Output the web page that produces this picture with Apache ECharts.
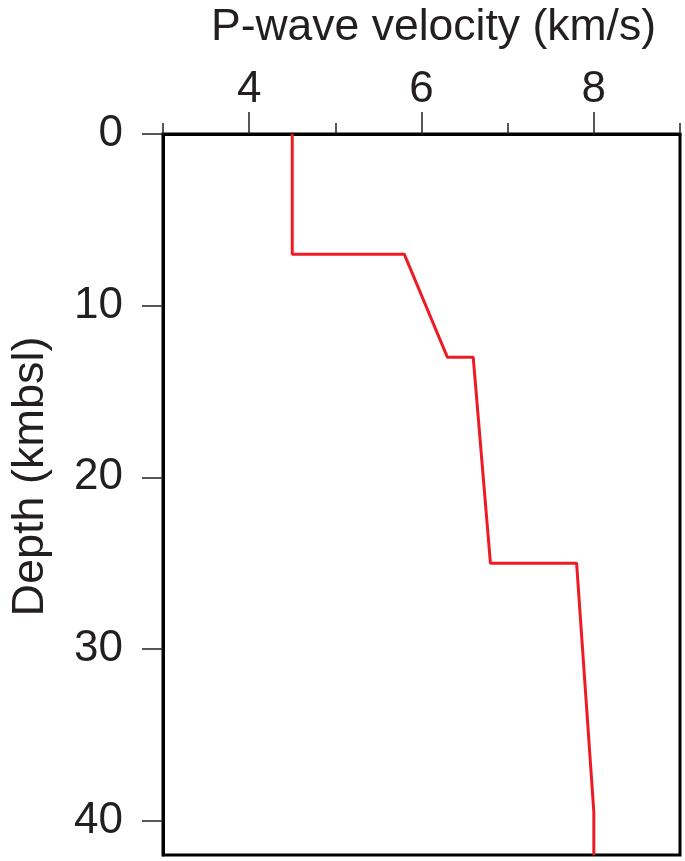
<!DOCTYPE html>
<html>
<head>
<meta charset="utf-8">
<script src="https://cdn.jsdelivr.net/npm/echarts@6/dist/echarts.min.js"></script>
<style>
html,body{margin:0;padding:0;background:#fff;}
#chart{width:685px;height:861px;}
</style>
</head>
<body>
<div id="chart"></div>
<script>
// Velocity model: P-wave velocity (km/s) vs depth (km below sea level)
const velocity = [4.5, 4.5, 5.8, 6.3, 6.6, 6.8, 7.8, 8.0, 8.0];
const depth    = [0,   7,   7,   13,  13,  25,  25,  39.5, 42];
const xMajorTicks = [4, 6, 8];
const xMinorTicks = [3, 5, 7, 9];
const yTicks = [0, 10, 20, 30, 40];
const xTitle = 'P-wave velocity (km/s)';
const yTitle = 'Depth (kmbsl)';

const txt = '#231f20';
const font = 'Liberation Sans, Arial, Helvetica, sans-serif';

const chart = echarts.init(document.getElementById('chart'), null, {renderer: 'canvas'});
chart.setOption({
  backgroundColor: '#fff',
  animation: false,
  grid: {left: 163, right: 5, top: 130, bottom: 6, show: true, borderColor: '#000', borderWidth: 3, containLabel: false},
  xAxis: [
    {
      type: 'value', position: 'top', min: 3, max: 9,
      name: xTitle, nameLocation: 'middle', nameGap: 84,
      nameTextStyle: {fontSize: 44.5, color: txt, fontFamily: font, padding: [0, 0, 0, 24]},
      axisLine: {show: true, lineStyle: {color: '#000', width: 3}},
      axisTick: {show: true, customValues: xMajorTicks, length: 22, inside: false, lineStyle: {color: '#231f20', width: 1.5}},
      axisLabel: {show: true, customValues: xMajorTicks, fontSize: 44, color: txt, fontFamily: font, margin: 22},
      splitLine: {show: false}
    },
    {
      type: 'value', position: 'top', min: 3, max: 9,
      axisLine: {show: false},
      axisTick: {show: true, customValues: xMinorTicks, length: 11, inside: false, lineStyle: {color: '#231f20', width: 1.5}},
      axisLabel: {show: false},
      splitLine: {show: false}
    }
  ],
  yAxis: {
    type: 'value', inverse: true, min: 0, max: 42,
    name: yTitle, nameLocation: 'middle', nameGap: 110,
    nameTextStyle: {fontSize: 45, color: txt, fontFamily: font, padding: [0, 0, 0, 36]},
    axisLine: {show: true, lineStyle: {color: '#000', width: 3}},
    axisTick: {show: true, customValues: yTicks, length: 21, lineStyle: {color: '#231f20', width: 1.5}},
    axisLabel: {show: true, customValues: yTicks, fontSize: 44, color: txt, fontFamily: font, margin: 40},
    splitLine: {show: false}
  },
  series: [{
    type: 'line',
    xAxisIndex: 0,
    data: velocity.map((v, i) => [v, depth[i]]),
    symbol: 'none',
    lineStyle: {color: '#ed1c24', width: 3},
    clip: true
  }]
});
</script>
</body>
</html>
